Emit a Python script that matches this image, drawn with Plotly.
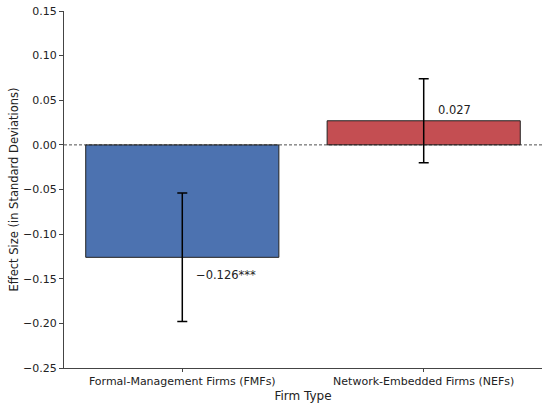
"""Effect size bar chart by firm type."""
import plotly.graph_objects as go

categories = ["Formal-Management Firms (FMFs)", "Network-Embedded Firms (NEFs)"]
effects = [-0.126, 0.027]
errors = [0.072, 0.047]
labels = ["\u22120.126***", "0.027"]
colors = ["#4C72B0", "#C44E52"]

FONT = "DejaVu Sans"

fig = go.Figure()
fig.add_trace(
    go.Bar(
        x=[0, 1],
        y=effects,
        width=0.8,
        marker=dict(color=colors, line=dict(color="#222222", width=1)),
        error_y=dict(type="data", array=errors, color="black", thickness=1.5, width=5),
        showlegend=False,
    )
)

# zero reference line
fig.add_shape(
    type="line", xref="paper", yref="y", x0=0, x1=1, y0=0, y1=0,
    line=dict(color="#222222", width=0.8, dash="3px,2px"),
)

offsets = [-0.02, 0.012]
for i, (val, lab) in enumerate(zip(effects, labels)):
    fig.add_annotation(
        x=i + 0.05, y=val + offsets[i], text=lab, showarrow=False,
        xanchor="left", yanchor="middle", font=dict(family=FONT, size=11.5, color="#222222"),
    )

fig.update_layout(
    width=550, height=410,
    margin=dict(l=64, r=8, t=11, b=42),
    plot_bgcolor="white", paper_bgcolor="white",
    font=dict(family=FONT, size=11, color="#222222"),
    bargap=0.2,
)
fig.update_xaxes(
    range=[-0.49, 1.49], tickvals=[0, 1], ticktext=categories, automargin=False,
    showline=True, linecolor="#444444", linewidth=1, ticks="outside", ticklen=3,
    tickcolor="#444444", showgrid=False, zeroline=False, ticklabeloverflow="allow",
    title=dict(text="Firm Type", font=dict(size=12), standoff=4),
)
fig.update_yaxes(
    range=[-0.25, 0.15], dtick=0.05, tickformat=".2f", automargin=False,
    showline=True, linecolor="#444444", linewidth=1, ticks="outside", ticklen=4,
    tickcolor="#444444", showgrid=False, zeroline=False, ticklabeloverflow="allow",
    title=dict(text="Effect Size (in Standard Deviations)", font=dict(size=11.5), standoff=2),
)

# drop the default page margin so the figure sits at the window's corner
fig.write_html(
    "out.html",
    config={"displayModeBar": False},
    post_script="document.body.style.margin='0';",
)
